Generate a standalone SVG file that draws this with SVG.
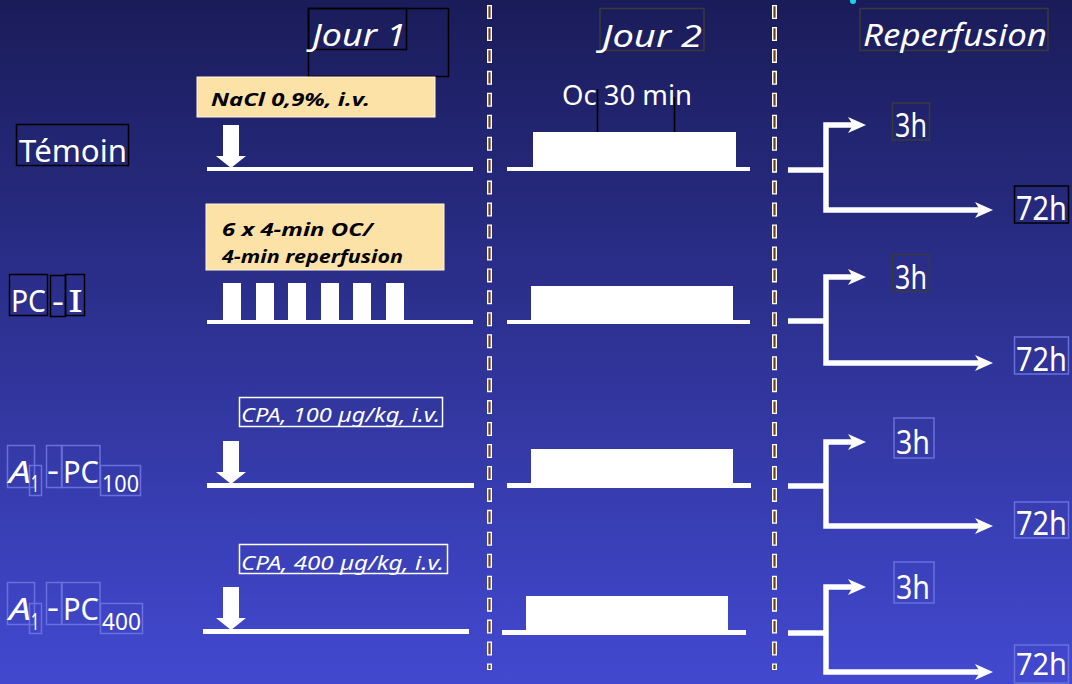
<svg xmlns="http://www.w3.org/2000/svg" width="1072" height="684" viewBox="0 0 1072 684">
  <defs>
    <linearGradient id="bg" x1="0" y1="0" x2="0" y2="1">
      <stop offset="0" stop-color="#1a1c59"/>
      <stop offset="1" stop-color="#4249d0"/>
    </linearGradient>
    <marker id="head" markerUnits="userSpaceOnUse" markerWidth="20" markerHeight="18" refX="6" refY="8" orient="auto">
      <path d="M0,0 L18,8 L0,16 L5,8 Z" fill="#fff"/>
    </marker>
    <!-- block arrow, tip at origin -->
    <path id="drop" d="M-8,-43 H8 V-12 H15 L0,0 L-15,-12 H-8 Z" fill="#fff"/>
  </defs>
  <style>
    .w{fill:#fff;font-family:"Noto Sans","DejaVu Sans",sans-serif}
    .it{font-style:italic}
    .note{fill:#000;font-family:"Noto Sans","DejaVu Sans",sans-serif;font-style:italic;font-weight:bold;font-size:18px}
    .cpa{fill:#fff;font-family:"Noto Sans","DejaVu Sans",sans-serif;font-style:italic;font-size:19px}
    .bk{fill:none;stroke:#000;stroke-width:1.5}
    .gy{fill:none;stroke:#3a3a3a;stroke-width:1.5}
    .lb{fill:none;stroke:#6770dc;stroke-width:1.5}
    .bar{fill:#fff}
    .rep{fill:none;stroke:#fff;stroke-width:5.5;stroke-linejoin:miter}
  </style>

  <rect width="1072" height="684" fill="url(#bg)"/>
  <circle cx="853" cy="1" r="3" fill="#19d4e6"/>

  <!-- dashed separators -->
  <g id="separators">
    <line x1="489.5" y1="5" x2="489.5" y2="670" stroke="#fff" stroke-width="5" stroke-dasharray="14 7.95"/>
    <line x1="489.5" y1="6.3" x2="489.5" y2="669" stroke="#6b3f1c" stroke-width="2.2" stroke-dasharray="11.4 10.55"/>
    <line x1="774.5" y1="5" x2="774.5" y2="670" stroke="#fff" stroke-width="5" stroke-dasharray="14 7.95"/>
    <line x1="774.5" y1="6.3" x2="774.5" y2="669" stroke="#6b3f1c" stroke-width="2.2" stroke-dasharray="11.4 10.55"/>
  </g>

  <!-- column headings -->
  <g id="jour1">
    <rect class="bk" x="308.5" y="8.5" width="140" height="68"/>
    <rect class="bk" x="308.5" y="8.5" width="98" height="41"/>
    <text class="w it" x="312" y="46" font-size="30" textLength="94" lengthAdjust="spacingAndGlyphs">Jour 1</text>
  </g>
  <g id="jour2">
    <rect class="gy" x="600" y="8.5" width="104" height="42"/>
    <text class="w it" x="602" y="47" font-size="30" textLength="100" lengthAdjust="spacingAndGlyphs">Jour 2</text>
  </g>
  <g id="reperfusion">
    <rect class="gy" x="860" y="8.5" width="188" height="42"/>
    <text class="w it" x="863" y="46" font-size="30" textLength="184" lengthAdjust="spacingAndGlyphs">Reperfusion</text>
  </g>

  <!-- row labels -->
  <g id="temoin">
    <rect class="bk" x="16.5" y="124.5" width="112" height="41"/>
    <text class="w" x="19" y="162" font-size="30" textLength="108" lengthAdjust="spacingAndGlyphs">Témoin</text>
  </g>
  <g id="pc-i">
    <rect class="bk" x="9.5" y="274.5" width="38" height="41"/>
    <rect class="bk" x="50.5" y="275.5" width="15" height="41"/>
    <rect class="bk" x="65.5" y="274.5" width="19" height="41"/>
    <text class="w" x="11" y="312" font-size="30" textLength="35" lengthAdjust="spacingAndGlyphs">PC</text>
    <text class="w" x="52" y="312" font-size="30" textLength="12" lengthAdjust="spacingAndGlyphs">-</text>
    <text class="w" x="68" y="312" font-size="30" textLength="15" lengthAdjust="spacingAndGlyphs">I</text>
  </g>
  <g id="a1-pc100">
    <rect class="lb" x="7.5" y="445.5" width="27" height="42"/>
    <rect class="lb" x="29.5" y="465.5" width="12" height="30"/>
    <rect class="lb" x="46.5" y="445.5" width="15" height="42"/>
    <rect class="lb" x="62" y="445.5" width="38" height="42"/>
    <rect class="lb" x="100.5" y="465.5" width="40" height="30"/>
    <text class="w it" x="9" y="483" font-size="31" textLength="22" lengthAdjust="spacingAndGlyphs">A</text>
    <text class="w" x="31" y="492" font-size="23" textLength="8" lengthAdjust="spacingAndGlyphs">1</text>
    <text class="w" x="47" y="481" font-size="31" textLength="12" lengthAdjust="spacingAndGlyphs">-</text>
    <text class="w" x="63" y="483" font-size="31" textLength="36" lengthAdjust="spacingAndGlyphs">PC</text>
    <text class="w" x="102" y="492" font-size="23" textLength="37" lengthAdjust="spacingAndGlyphs">100</text>
  </g>
  <g id="a1-pc400">
    <rect class="lb" x="7.5" y="582.5" width="27" height="42"/>
    <rect class="lb" x="29.5" y="603.5" width="12" height="30"/>
    <rect class="lb" x="46.5" y="582.5" width="15" height="42"/>
    <rect class="lb" x="62" y="582.5" width="38" height="42"/>
    <rect class="lb" x="100.5" y="603.5" width="42" height="30"/>
    <text class="w it" x="9" y="620" font-size="31" textLength="22" lengthAdjust="spacingAndGlyphs">A</text>
    <text class="w" x="31" y="630" font-size="23" textLength="8" lengthAdjust="spacingAndGlyphs">1</text>
    <text class="w" x="47" y="618" font-size="31" textLength="12" lengthAdjust="spacingAndGlyphs">-</text>
    <text class="w" x="63" y="620" font-size="31" textLength="36" lengthAdjust="spacingAndGlyphs">PC</text>
    <text class="w" x="102" y="630" font-size="23" textLength="39" lengthAdjust="spacingAndGlyphs">400</text>
  </g>

  <!-- treatment notes -->
  <g id="note-nacl">
    <rect x="197" y="77" width="238" height="40" fill="#fde2a8" stroke="#fff5e0" stroke-width="1"/>
    <text class="note" x="211" y="106" textLength="159" lengthAdjust="spacingAndGlyphs">NaCl 0,9%, i.v.</text>
  </g>
  <g id="note-pc">
    <rect x="206" y="204" width="238" height="66" fill="#fde2a8" stroke="#fff5e0" stroke-width="1"/>
    <text class="note" x="222" y="236" textLength="151" lengthAdjust="spacingAndGlyphs">6 x 4-min OC/</text>
    <text class="note" x="222" y="263" textLength="181" lengthAdjust="spacingAndGlyphs">4-min reperfusion</text>
  </g>
  <g id="note-cpa100">
    <rect x="239.5" y="397.5" width="203" height="29" fill="none" stroke="#fff" stroke-width="1.5"/>
    <text class="cpa" x="241" y="422" textLength="199" lengthAdjust="spacingAndGlyphs">CPA, 100 µg/kg, i.v.</text>
  </g>
  <g id="note-cpa400">
    <rect x="239.5" y="544.5" width="208" height="29" fill="none" stroke="#fff" stroke-width="1.5"/>
    <text class="cpa" x="241" y="570" textLength="203" lengthAdjust="spacingAndGlyphs">CPA, 400 µg/kg, i.v.</text>
  </g>
  <g id="note-oc">
    <text class="w" x="562" y="105" font-size="27" textLength="130" lengthAdjust="spacingAndGlyphs">Oc 30 min</text>
    <line x1="597.5" y1="89" x2="597.5" y2="132" stroke="#000" stroke-width="1.6"/>
    <line x1="674.5" y1="97" x2="674.5" y2="132" stroke="#000" stroke-width="1.6"/>
  </g>

  <!-- outcome labels -->
  <g id="out-3h-1"><rect class="gy" x="892.5" y="103" width="37" height="37"/><text class="w" x="895" y="137" font-size="32" textLength="32" lengthAdjust="spacingAndGlyphs">3h</text></g>
  <g id="out-72h-1"><rect class="bk" x="1014.5" y="186" width="54" height="37"/><text class="w" x="1016" y="220" font-size="32" textLength="51" lengthAdjust="spacingAndGlyphs">72h</text></g>
  <g id="out-3h-2"><rect class="gy" x="892.5" y="254.5" width="37" height="37"/><text class="w" x="895" y="289" font-size="32" textLength="32" lengthAdjust="spacingAndGlyphs">3h</text></g>
  <g id="out-72h-2"><rect class="lb" x="1014.5" y="337" width="54" height="37"/><text class="w" x="1016" y="371" font-size="32" textLength="51" lengthAdjust="spacingAndGlyphs">72h</text></g>
  <g id="out-3h-3"><rect class="lb" x="894" y="418" width="40" height="40"/><text class="w" x="896" y="454" font-size="32" textLength="34" lengthAdjust="spacingAndGlyphs">3h</text></g>
  <g id="out-72h-3"><rect class="lb" x="1014.5" y="502" width="54" height="36"/><text class="w" x="1016" y="535" font-size="32" textLength="51" lengthAdjust="spacingAndGlyphs">72h</text></g>
  <g id="out-3h-4"><rect class="lb" x="894" y="562" width="40" height="41"/><text class="w" x="896" y="599" font-size="32" textLength="34" lengthAdjust="spacingAndGlyphs">3h</text></g>
  <g id="out-72h-4"><rect class="lb" x="1014.5" y="645" width="54" height="38"/><text class="w" x="1016" y="675" font-size="31" textLength="51" lengthAdjust="spacingAndGlyphs">72h</text></g>

  <!-- timelines, injections and branching arrows -->
  <g id="connectors">
    <!-- day 1 -->
    <rect class="bar" x="207" y="167" width="266" height="4"/>
    <use href="#drop" x="231" y="168"/>
    <path class="bar" d="M207,320 H223 V283 H241 V320 H256 V283 H274 V320 H288 V283 H306 V320 H321 V283 H339 V320 H353 V283 H371 V320 H386 V283 H404 V320 H473 V324 H207 Z"/>
    <rect class="bar" x="207" y="483" width="267" height="5"/>
    <use href="#drop" x="231" y="484"/>
    <rect class="bar" x="203" y="629" width="266" height="5"/>
    <use href="#drop" x="231" y="630"/>

    <!-- day 2 -->
    <path class="bar" d="M507,167 H533 V132 H736 V167 H750 V171 H507 Z"/>
    <path class="bar" d="M507,320 H531 V286 H733 V320 H750 V324 H507 Z"/>
    <path class="bar" d="M507,483 H531 V449 H733 V483 H751 V488 H507 Z"/>
    <path class="bar" d="M502,630 H526 V596 H728 V630 H746 V635 H502 Z"/>

    <!-- reperfusion branches -->
    <path class="rep" d="M788,170 H826"/>
    <path class="rep" d="M826,170 V125 H854" marker-end="url(#head)"/>
    <path class="rep" d="M826,170 V210 H981" marker-end="url(#head)"/>

    <path class="rep" d="M788,321 H826"/>
    <path class="rep" d="M826,321 V277 H854" marker-end="url(#head)"/>
    <path class="rep" d="M826,321 V363 H981" marker-end="url(#head)"/>

    <path class="rep" d="M788,486 H826"/>
    <path class="rep" d="M826,486 V442 H854" marker-end="url(#head)"/>
    <path class="rep" d="M826,486 V526 H981" marker-end="url(#head)"/>

    <path class="rep" d="M788,633 H826"/>
    <path class="rep" d="M826,633 V587 H854" marker-end="url(#head)"/>
    <path class="rep" d="M826,633 V672 H981" marker-end="url(#head)"/>
  </g>
</svg>
